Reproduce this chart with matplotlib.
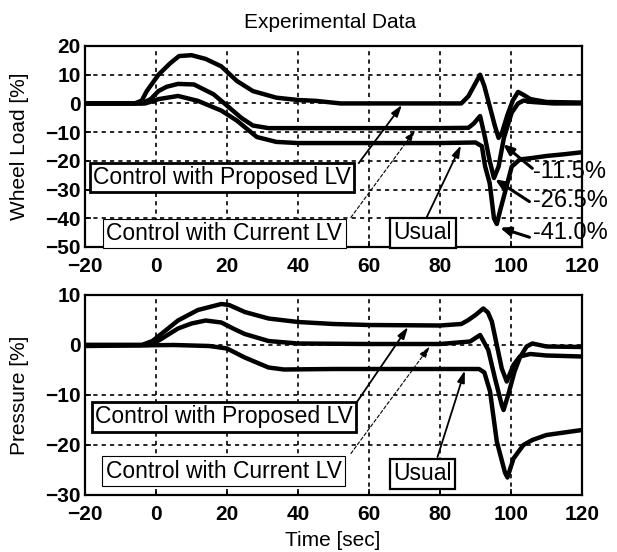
import matplotlib
matplotlib.use("Agg")
import matplotlib.pyplot as plt

plt.rcParams['font.family'] = ['Liberation Sans', 'DejaVu Sans']

# ---------------- data: Wheel Load [%] ----------------
wl_prop_t = [-20, -6, -4, -2.6, 0.7, 4, 6.5, 10, 14, 18.4, 22.8, 27.3, 33.9, 40, 45, 52, 60, 70, 80, 86, 88,
             91.3, 92.5, 94, 95.5, 96.5, 97.5, 99, 100.5, 102, 103.5, 105.5, 110, 120]
wl_prop_v = [0, 0, 1, 4.3, 10, 14, 16.5, 16.8, 15.5, 12.9, 7.8, 4.3, 2, 1.2, 0.9, 0, 0, 0, 0, 0, 2.5,
             10, 6, -1, -8, -12, -10, -4, 1, 4, 3, 1.5, 0.5, 0.3]

wl_curr_t = [-20, -4, -1.5, 0.7, 3, 6.2, 10.7, 16.2, 20.6, 24, 27.3, 31.7, 40, 60, 80, 88, 89.5, 91.3,
             92.7, 94, 95.2, 96.5, 98, 100.2, 102, 103.5, 106, 112, 120]
wl_curr_v = [0, 0, 1.5, 4.3, 5.8, 6.8, 6.6, 3.2, -1.4, -5, -7.7, -8.6, -8.6, -8.6, -8.6, -8.5, -7, -4.4,
             -12, -20, -26, -22, -12, -3.2, 0, 1, 0.5, 0, 0]

wl_usual_t = [-20, -3, 0.7, 6.2, 11.8, 18.4, 22.8, 28.4, 33.9, 40, 60, 80, 90, 91.8, 92.7, 94, 95.2, 96,
              97, 98.3, 100.2, 102.5, 106, 110, 115, 120]
wl_usual_v = [0, 0, 1.5, 2.6, 0.9, -2.5, -6, -11.7, -13.4, -13.8, -13.8, -13.8, -13.6, -14.9, -21.9,
              -27.8, -40, -42, -37, -31, -22, -19.5, -19, -18.3, -17.7, -17]

# ---------------- data: Pressure [%] ----------------
pr_prop_t = [-20, -4, -1, 2, 6.2, 11.8, 18.4, 20.6, 25, 31.7, 40, 50, 60, 80, 86, 88, 90, 92.2, 93.5,
             94.6, 96, 97.4, 98.8, 100.7, 102.5, 105.4, 110, 120]
pr_prop_v = [0, 0, 0.8, 2.5, 4.9, 7, 8.2, 8, 6.6, 5.3, 4.6, 4.2, 4, 3.9, 4.2, 5, 6, 7.3, 6.5,
             4.7, 0, -4.7, -7.3, -4, -2.3, -1.8, -2.1, -2.3]

pr_curr_t = [-20, -2, 1, 6.2, 10, 14, 18.4, 22, 25, 31.7, 40, 60, 80, 88.5, 91.3, 93.6, 95.5, 97.4,
             97.9, 99.2, 101, 102.5, 104.4, 106, 110, 120]
pr_curr_v = [0, 0, 1, 3.3, 4.3, 4.9, 4.5, 3.2, 2.2, 0.8, 0.3, 0.2, 0.2, 0.7, 2, -1, -6.7, -12,
             -13, -10, -5.3, -2.5, -0.3, 0.3, -0.3, -0.4]

pr_usual_t = [-20, 5, 15, 20, 25, 31.7, 36, 50, 80, 91, 92.5, 94.1, 96, 98.3, 99, 100.7, 103.5, 106,
              110, 115, 120]
pr_usual_v = [-0.2, 0, -0.2, -0.7, -2.5, -4.5, -4.9, -4.8, -4.8, -4.8, -5.5, -9.3, -19.3, -25.5,
              -26.5, -22.7, -20, -19, -18, -17.5, -17]

x_ticks = [-20, 0, 20, 40, 60, 80, 100, 120]
wl_yticks = [20, 10, 0, -10, -20, -30, -40, -50]
pr_yticks = [10, 0, -10, -20, -30]

labels = ["Control with Proposed LV", "Control with Current LV", "Usual"]
pct_labels = ["-11.5%", "-26.5%", "-41.0%"]

W, H = 617, 552
fig = plt.figure(figsize=(W / 100, H / 100), dpi=100)
ax1 = fig.add_axes([85 / W, 1 - 247 / H, 497 / W, 201 / H])
ax2 = fig.add_axes([85 / W, 1 - 495 / H, 497 / W, 200 / H])

LW = 3.2
for ax in (ax1, ax2):
    ax.set_xlim(-20, 120)
    ax.set_xticks(x_ticks)
    ax.grid(True, color='k', linestyle=(0, (2.5, 2.5)), linewidth=1.2)
    for s in ax.spines.values():
        s.set_linewidth(1.6)
    ax.tick_params(direction='in', length=4, width=1.2, labelsize=15)
    ax.tick_params(axis='x', pad=7)
    ax.tick_params(axis='y', pad=3)
    for lab in ax.get_xticklabels() + ax.get_yticklabels():
        lab.set_fontweight('bold')

ax1.plot(wl_prop_t, wl_prop_v, color='k', lw=LW)
ax1.plot(wl_curr_t, wl_curr_v, color='k', lw=LW)
ax1.plot(wl_usual_t, wl_usual_v, color='k', lw=LW)
ax1.set_ylim(-50, 20)
ax1.set_yticks(wl_yticks)

ax2.plot(pr_prop_t, pr_prop_v, color='k', lw=LW)
ax2.plot(pr_curr_t, pr_curr_v, color='k', lw=LW)
ax2.plot(pr_usual_t, pr_usual_v, color='k', lw=LW)
ax2.set_ylim(-30, 10)
ax2.set_yticks(pr_yticks)

for ax in (ax1, ax2):
    for lab in ax.get_xticklabels() + ax.get_yticklabels():
        lab.set_fontweight('bold')

TFS = 16.5

def boxes(ax, pos_prop, pos_curr, pos_usual, arr_prop, arr_curr, arr_usual):
    ax.text(*pos_prop, labels[0], ha='center', va='center', fontsize=TFS, zorder=5,
            bbox=dict(boxstyle='square,pad=0.15', fc='white', ec='k', lw=2.0), clip_on=False)
    ax.text(*pos_curr, labels[1], ha='center', va='center', fontsize=TFS, zorder=5,
            bbox=dict(boxstyle='square,pad=0.15', fc='white', ec='k', lw=0.8), clip_on=False)
    ax.text(*pos_usual, labels[2], ha='center', va='center', fontsize=TFS, zorder=5,
            bbox=dict(boxstyle='square,pad=0.15', fc='white', ec='k', lw=1.6), clip_on=False)
    ax.annotate('', xy=arr_prop[1], xytext=arr_prop[0],
                arrowprops=dict(arrowstyle='-|>,head_length=0.7,head_width=0.22', color='k', lw=1.3,
                                shrinkA=0, shrinkB=0))
    ax.annotate('', xy=arr_curr[1], xytext=arr_curr[0],
                arrowprops=dict(arrowstyle='-|>,head_length=0.7,head_width=0.22', color='k', lw=0.8,
                                linestyle=(0, (3, 2)), shrinkA=0, shrinkB=0))
    ax.annotate('', xy=arr_usual[1], xytext=arr_usual[0],
                arrowprops=dict(arrowstyle='-|>,head_length=0.7,head_width=0.22', color='k', lw=1.3,
                                shrinkA=0, shrinkB=0))

boxes(ax1, (18.6, -25.8), (19.2, -45.3), (75.2, -45.0),
      ((57.1, -20.8), (69.3, -0.5)), ((54.9, -39.7), (73.0, -9.3)), ((76.0, -40.3), (85.9, -14.6)))
boxes(ax2, (19.2, -14.4), (19.0, -25.2), (75.0, -25.8),
      ((56.6, -11.4), (71.0, 3.6)), ((54.9, -21.7), (77.1, -0.3)), ((79.3, -22.4), (87.0, -5.1)))

# percent annotations
pct_text_y = [-23.9, -34.0, -45.1]
pct_tail = [(106.0, -22.6), (105.2, -34.2), (105.2, -46.6)]
pct_tip = [(97.8, -14.2), (95.5, -26.4), (96.9, -43.3)]
for lab, ty, tail, tip in zip(pct_labels, pct_text_y, pct_tail, pct_tip):
    ax1.text(106.2, ty, lab, ha='left', va='center', fontsize=17, clip_on=False, zorder=6)
    ax1.annotate('', xy=tip, xytext=tail,
                 arrowprops=dict(arrowstyle='-|>,head_length=0.6,head_width=0.25', color='k', lw=2.2,
                                 shrinkA=0, shrinkB=0))

fig.text(330 / W, 1 - 22 / H, 'Experimental Data', ha='center', va='center', fontsize=15)
fig.text(20 / W, 1 - 146 / H, 'Wheel Load [%]', ha='center', va='center', rotation=90, fontsize=15)
fig.text(20 / W, 1 - 395 / H, 'Pressure [%]', ha='center', va='center', rotation=90, fontsize=15)
fig.text(333 / W, 1 - 540 / H, 'Time [sec]', ha='center', va='center', fontsize=15)

fig.savefig('out.png', dpi=100, facecolor='white')
